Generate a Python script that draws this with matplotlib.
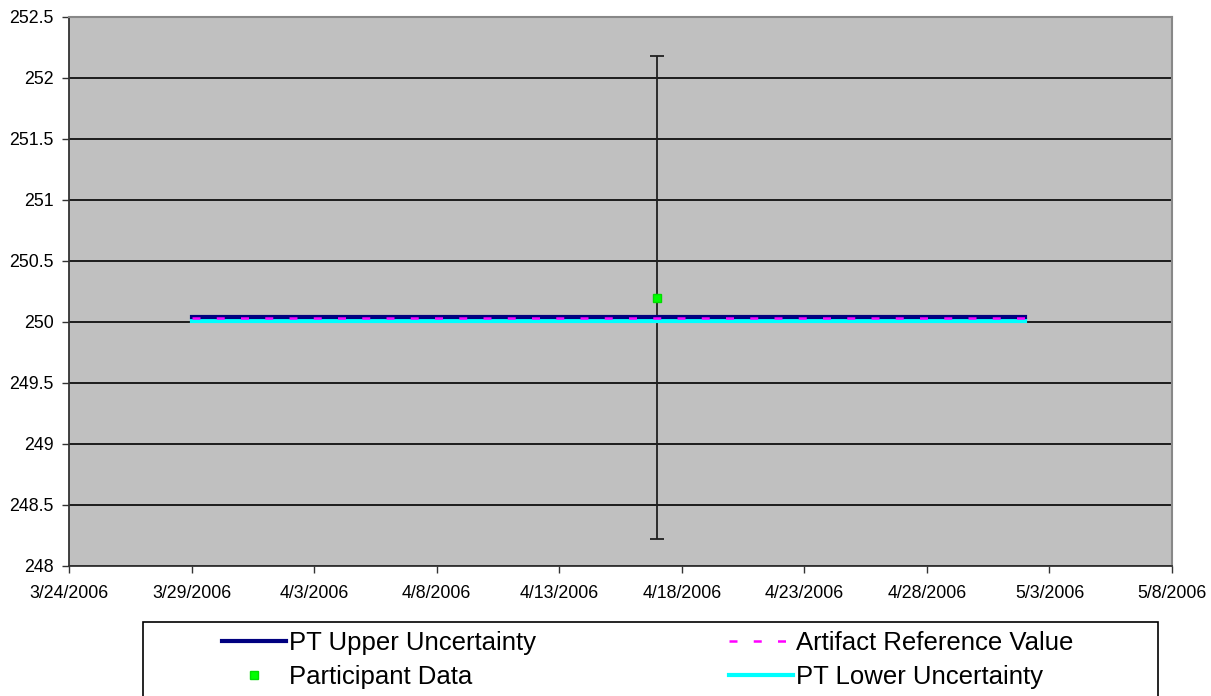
import datetime as dt
import matplotlib
matplotlib.use('Agg')
import matplotlib.pyplot as plt
import matplotlib.dates as mdates
from matplotlib.patches import Rectangle
from matplotlib.ticker import FuncFormatter, MultipleLocator

plt.rcParams['font.family'] = ['Liberation Sans', 'DejaVu Sans']

# data
line_dates = [dt.date(2006, 3, 29), dt.date(2006, 5, 2)]
pt_upper = [250.04, 250.04]
ref_value = [250.03, 250.03]
pt_lower = [250.01, 250.01]

part_dates = [dt.date(2006, 4, 17)]
part_values = [250.2]
part_err = [1.98]

x_start = dt.date(2006, 3, 24)
x_end = dt.date(2006, 5, 8)

fig = plt.figure(figsize=(12.11, 6.96), dpi=100)
ax = fig.add_axes([69 / 1211, 1 - 566 / 696, (1172 - 69) / 1211, (566 - 17) / 696])
ax.set_facecolor('#C0C0C0')

ax.yaxis.grid(True, color='black', linewidth=1.2)
ax.set_axisbelow(True)

# error bar for participant
ax.errorbar(part_dates, part_values, yerr=part_err, fmt='none', ecolor='#202020',
            elinewidth=1.3, capsize=5, capthick=1.3, zorder=3)

l1, = ax.plot(line_dates, pt_upper, color='#000080', linewidth=3, zorder=4,
              label='PT Upper Uncertainty')
l3, = ax.plot(line_dates, ref_value, color='#FF00FF', linewidth=1.8, zorder=5,
              dashes=(3.2, 6.5), label='Artifact Reference Value')
l4, = ax.plot(line_dates, pt_lower, color='#00FFFF', linewidth=3, zorder=3.5,
              label='PT Lower Uncertainty')
l2, = ax.plot(part_dates, part_values, linestyle='none', marker='s', markersize=6,
              color='#00FF00', markeredgecolor='#00DD00', zorder=6, label='Participant Data')

ax.set_xlim(mdates.date2num(x_start), mdates.date2num(x_end))
ax.set_ylim(248, 252.5)
ax.yaxis.set_major_locator(MultipleLocator(0.5))
ax.yaxis.set_major_formatter(FuncFormatter(lambda v, p: f'{v:g}'))

xticks = [mdates.date2num(x_start + dt.timedelta(days=5 * i)) for i in range(10)]
ax.set_xticks(xticks)
ax.xaxis.set_major_formatter(FuncFormatter(
    lambda v, p: '{d.month}/{d.day}/{d.year}'.format(d=mdates.num2date(v))))

ax.tick_params(axis='both', direction='out', length=5, width=1, colors='#333333',
               labelcolor='black', labelsize=12.8)
ax.tick_params(axis='x', pad=9)
ax.tick_params(axis='y', pad=6)

for s in ['left', 'bottom']:
    ax.spines[s].set_color('#333333')
    ax.spines[s].set_linewidth(1.3)
for s in ['top', 'right']:
    ax.spines[s].set_color('#888888')
    ax.spines[s].set_linewidth(1.5)

# legend box running off the bottom edge
fig.patches.append(Rectangle((143 / 1211, -0.05), (1158 - 143) / 1211, 0.05 + 1 - 622 / 696,
                             transform=fig.transFigure, facecolor='white',
                             edgecolor='black', linewidth=1.2))
leg = fig.legend(handles=[l1, l2, l3, l4], ncol=2, loc='upper left',
                 bbox_to_anchor=(222 / 1211, 1 - 631 / 696), frameon=False,
                 fontsize=18.5, handlelength=2.5, handletextpad=0.12,
                 columnspacing=7.5, labelspacing=0.4, borderpad=0, borderaxespad=0)

fig.savefig('out.png', dpi=100)
